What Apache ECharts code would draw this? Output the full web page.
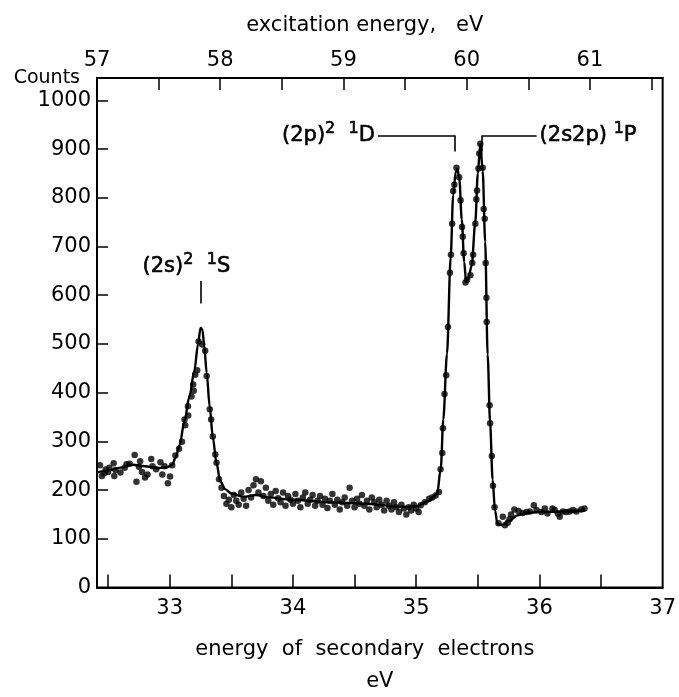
<!DOCTYPE html>
<html>
<head>
<meta charset="utf-8">
<title>He doubly excited states</title>
<script src="https://cdn.jsdelivr.net/npm/echarts@6/dist/echarts.min.js"></script>
<style>
  html, body { margin: 0; padding: 0; background: #fff; }
  #chart { width: 679px; height: 697px; }
</style>
</head>
<body>
<div id="chart"></div>
<script>
// Excitation energy = secondary-electron energy + He ionization potential (eV)
const ionizationShift = 24.59;
const energyMin = 32.41;
const energyMax = 37;
const countsMax = 1046;

// Tick positions and labels
const energyTicks = [32.5, 33, 33.5, 34, 34.5, 35, 35.5, 36, 36.5];
const energyLabels = [33, 34, 35, 36, 37];
const excitationTicks = [57, 57.5, 58, 58.5, 59, 59.5, 60, 60.5, 61, 61.5];
const excitationLabels = [57, 58, 59, 60, 61];
const countTicks = [0, 100, 200, 300, 400, 500, 600, 700, 800, 900, 1000];

// Measured points: energy of secondary electrons (eV)
const dotEnergy = [
  32.434, 32.45, 32.47, 32.48, 32.50, 32.51, 32.545, 32.55, 32.56, 32.60,
  32.635, 32.65, 32.675, 32.716, 32.73, 32.75, 32.76, 32.775, 32.80, 32.82,
  32.85, 32.86, 32.89, 32.925, 32.94, 32.958, 32.985, 33.003, 33.02,
  33.046, 33.076, 33.10, 33.12, 33.126, 33.148, 33.15, 33.177, 33.19, 33.195,
  33.207, 33.223, 33.234, 33.263, 33.288, 33.30, 33.325, 33.336, 33.35, 33.37,
  33.38, 33.40,
  33.42, 33.44, 33.46, 33.48, 33.50, 33.52, 33.54, 33.56, 33.58, 33.60,
  33.62, 33.64, 33.66, 33.68, 33.70, 33.72, 33.74, 33.76, 33.78, 33.80,
  33.82, 33.84, 33.86, 33.88, 33.90, 33.92, 33.94, 33.96, 33.98, 34.00,
  34.02, 34.04, 34.06, 34.08, 34.10, 34.12, 34.14, 34.16, 34.18, 34.20,
  34.22, 34.24, 34.26, 34.28, 34.30, 34.32, 34.34, 34.36, 34.38, 34.40,
  34.42, 34.44, 34.46, 34.48, 34.50, 34.52, 34.54, 34.56, 34.58, 34.60,
  34.62, 34.64, 34.66, 34.68, 34.70, 34.72, 34.74, 34.76, 34.78, 34.80,
  34.82, 34.84, 34.86, 34.88, 34.90, 34.92, 34.94, 34.96, 34.98, 35.00,
  35.02, 35.037, 35.07, 35.105, 35.13, 35.158, 35.185, 35.198, 35.212, 35.217,
  35.23, 35.244, 35.258, 35.274, 35.282, 35.292, 35.30, 35.31, 35.327, 35.349,
  35.36, 35.372, 35.378, 35.385, 35.40, 35.413, 35.44, 35.455, 35.462, 35.48,
  35.488, 35.494, 35.505, 35.512, 35.52, 35.54, 35.548, 35.556, 35.564, 35.57,
  35.572, 35.596, 35.60, 35.614, 35.623, 35.636,
  35.668, 35.703, 35.72, 35.743, 35.757, 35.77, 35.797, 35.83, 35.864, 35.896,
  35.923, 35.955, 35.977, 36.017, 36.044, 36.065, 36.106, 36.124, 36.15, 36.165,
  36.19, 36.218, 36.245, 36.272, 36.30, 36.34, 36.366
];

// Measured points: counts
const dotCounts = [
  251, 229, 235, 242, 237, 246, 255, 229, 241, 236,
  246, 253, 254, 272, 217, 248, 259, 237, 226, 232,
  264, 249, 243, 257, 232, 249, 214, 228, 251,
  271, 285, 299, 345, 333, 372, 353, 392, 417, 404,
  437, 446, 505, 499, 486, 434, 366, 345, 310, 273,
  256, 222,
  205, 188, 172, 180, 165, 190, 178, 170, 195, 182,
  168, 200, 185, 210, 222, 195, 218, 188, 205, 178,
  192, 170, 198, 183, 175, 195, 168, 188, 180, 172,
  192, 178, 165, 185, 195, 172, 180, 190, 168, 178,
  188, 170, 182, 163, 178, 192, 170, 180, 160, 175,
  185, 168, 205, 178, 165, 182, 172, 190, 168, 178,
  160, 185, 175, 165, 180, 170, 158, 178, 168, 160,
  175, 165, 155, 170, 162, 150, 165, 158, 170, 162,
  155, 169, 175, 182, 185, 189, 196, 243, 276, 327,
  397, 436, 535, 646, 683, 747, 814, 827, 862, 842,
  795, 740, 720, 686, 626, 632, 641, 666, 683, 747,
  797, 815, 860, 891, 911, 862, 777, 757, 666, 595,
  545, 374, 337, 270, 209, 165,
  132, 145, 128, 133, 140, 150, 160, 157, 153, 155,
  156, 169, 159, 155, 162, 152, 162, 159, 152, 145,
  156, 155, 156, 159, 156, 160, 162
];

// Hand-drawn smooth curve through the points
const curveEnergy = [
  32.41, 32.5, 32.6, 32.7, 32.8, 32.9, 32.98, 33.02, 33.05, 33.08,
  33.12, 33.16, 33.2, 33.23, 33.25, 33.265, 33.28, 33.3, 33.325, 33.35,
  33.38, 33.41, 33.45, 33.5, 33.6, 33.7, 33.8, 34.0, 34.3, 34.6,
  34.9, 35.0, 35.1, 35.17, 35.2, 35.22, 35.25, 35.28, 35.3, 35.32,
  35.335, 35.35, 35.37, 35.39, 35.405, 35.42, 35.45, 35.48, 35.5, 35.52,
  35.54, 35.56, 35.58, 35.6, 35.62, 35.64, 35.66, 35.7, 35.75, 35.82,
  35.9, 36.0, 36.2, 36.37
];
const curveCounts = [
  236, 240, 246, 252, 249, 245, 247, 252, 268, 292,
  342, 392, 445, 500, 533, 530, 497, 440, 370, 308,
  255, 218, 202, 193, 186, 190, 185, 180, 175, 172,
  165, 167, 177, 192, 245, 345, 480, 678, 805, 852,
  860, 840, 755, 668, 628, 632, 660, 750, 850, 910,
  855, 710, 478, 338, 222, 158, 130, 128, 136, 148,
  153, 155, 156, 158
];

const font = 'DejaVu Sans';
const ink = '#000';
// slight outline thickens the strokes of the annotation lettering
const heavy = { textBorderColor: ink, textBorderWidth: 0.6 };

const dots = dotEnergy.map((e, i) => [e, dotCounts[i]]);
const curve = curveEnergy.map((e, i) => [e, curveCounts[i]]);

const textRich = {
  t: Object.assign({ fontFamily: font, fontSize: 21, color: ink, lineHeight: 30 }, heavy),
  s: Object.assign({ fontFamily: font, fontSize: 16, color: ink, verticalAlign: 'top' }, heavy)
};

const labelStyle = { fontFamily: font, fontSize: 21, color: ink };

const chart = echarts.init(document.getElementById('chart'), null, { renderer: 'canvas' });

chart.setOption({
  animation: false,
  backgroundColor: '#fff',
  grid: {
    left: 97, right: 12, top: 78, bottom: 100,
    show: true, borderColor: ink, borderWidth: 2, backgroundColor: 'transparent'
  },
  xAxis: [
    {
      type: 'value', position: 'bottom',
      min: energyMin, max: energyMax,
      axisLine: { show: true, onZero: false, lineStyle: { color: ink, width: 2 } },
      axisTick: { show: true, inside: true, length: 13, lineStyle: { color: ink, width: 1.5 }, customValues: energyTicks },
      axisLabel: Object.assign({ customValues: energyLabels, margin: 11 }, labelStyle),
      splitLine: { show: false },
      name: '{a|energy  of  secondary  electrons}\n{b|eV}',
      nameLocation: 'middle', nameGap: 46, nameMoveOverlap: false,
      nameTextStyle: {
        rich: {
          a: { fontFamily: font, fontSize: 21, color: ink, lineHeight: 32, padding: [0, 30, 0, 0] },
          b: { fontFamily: font, fontSize: 21, color: ink, lineHeight: 32 }
        }
      }
    },
    {
      type: 'value', position: 'top',
      min: energyMin + ionizationShift, max: energyMax + ionizationShift,
      axisLine: { show: true, onZero: false, lineStyle: { color: ink, width: 2 } },
      axisTick: { show: true, inside: true, length: 12, lineStyle: { color: ink, width: 1.5 }, customValues: excitationTicks },
      axisLabel: Object.assign({ customValues: excitationLabels, margin: 7 }, labelStyle),
      splitLine: { show: false },
      name: 'excitation energy,   eV',
      nameLocation: 'middle', nameGap: 42, nameMoveOverlap: false,
      nameTextStyle: Object.assign({ padding: [0, 30, 0, 0] }, labelStyle)
    }
  ],
  yAxis: {
    type: 'value', min: 0, max: countsMax,
    axisLine: { show: true, lineStyle: { color: ink, width: 2 } },
    axisTick: { show: true, inside: true, length: 11, lineStyle: { color: ink, width: 1.5 }, customValues: countTicks },
    axisLabel: Object.assign({ customValues: countTicks, margin: 6, formatter: v => String(v) }, labelStyle),
    splitLine: { show: false },
    name: 'Counts', nameLocation: 'end', nameGap: 0, nameMoveOverlap: false,
    nameTextStyle: Object.assign({}, labelStyle, { fontSize: 19, align: 'right', verticalAlign: 'middle', padding: [0, 17, 0, 0] })
  },
  series: [
    {
      name: 'fit', type: 'line', data: curve,
      xAxisIndex: 0, yAxisIndex: 0,
      showSymbol: false, smooth: 0.3, smoothMonotone: 'x',
      lineStyle: { color: ink, width: 2.4 },
      z: 3,
      markLine: {
        silent: true, symbol: ['none', 'none'], animation: false,
        label: { show: false },
        lineStyle: { color: ink, width: 1.6, type: 'solid' },
        data: [
          [{ coord: [33.255, 583] }, { coord: [33.255, 629] }],
          [{ coord: [34.69, 928] }, { coord: [35.317, 928] }],
          [{ coord: [35.317, 928] }, { coord: [35.317, 895] }],
          [{ coord: [35.534, 895] }, { coord: [35.534, 928] }],
          [{ coord: [35.534, 928] }, { coord: [35.977, 928] }]
        ]
      },
      markPoint: {
        silent: true, symbol: 'rect', symbolSize: 0, animation: false,
        label: { show: true, color: ink },
        data: [
          { coord: [33.135, 659], label: { position: 'inside', formatter: '{t|(2s)}{s|2}{t|  }{s|1}{t|S}', rich: textRich } },
          { coord: [34.69, 928], label: { position: 'left', distance: 3, formatter: '{t|(2p)}{s|2}{t|  }{s|1}{t|D}', rich: textRich } },
          { coord: [35.977, 928], label: { position: 'right', distance: 3, formatter: '{t|(2s2p) }{s|1}{t|P}', rich: textRich } }
        ]
      }
    },
    {
      name: 'measured', type: 'scatter', data: dots,
      xAxisIndex: 0, yAxisIndex: 0,
      symbol: 'circle', symbolSize: 6.5,
      itemStyle: { color: ink },
      z: 4
    }
  ]
});
</script>
</body>
</html>
